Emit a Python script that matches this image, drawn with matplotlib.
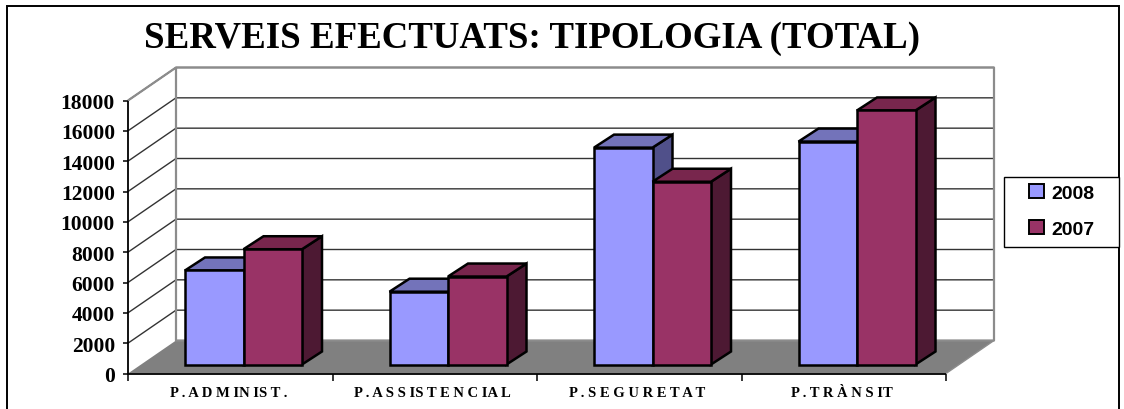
import matplotlib
matplotlib.use("Agg")
import matplotlib.pyplot as plt
from matplotlib.patches import Patch, Rectangle

W, H = 1124, 410

categories = ["P . A D M IN IS T .", "P . A S S IS T E N C IA L", "P . S E G U R E T A T", "P . T R À N S IT"]
v2008 = [6200, 4800, 14300, 14700]
v2007 = [7600, 5800, 12050, 16750]
yticks = list(range(0, 18001, 2000))
titol = "SERVEIS EFECTUATS: TIPOLOGIA (TOTAL)"

fig = plt.figure(figsize=(W / 100, H / 100), dpi=100, facecolor="white")
# l'eix coincideix amb el pla frontal del grafic 3D
x0, x1, y0, y1 = 128, 946, 374.5, 101.5
ax = fig.add_axes([x0 / W, 1 - y0 / H, (x1 - x0) / W, (y0 - y1) / H])
ax.set_xlim(0, 4)
ax.set_ylim(0, 18000)
ax.axis("off")

px = 4 / (x1 - x0)        # unitats x per pixel
py = 18000 / (y0 - y1)    # unitats y per pixel
dx, dy = 48 * px, 33 * py  # profunditat de la caixa


def poly(xs, ys, color, ec="none", lw=0, z=1):
    ax.fill(xs, ys, facecolor=color, edgecolor=ec, linewidth=lw, clip_on=False,
            zorder=z, joinstyle="miter")


def line(xs, ys, color="black", lw=1.0, z=2):
    ax.plot(xs, ys, color=color, lw=lw, clip_on=False, zorder=z, solid_capstyle="butt")


# marc exterior
fig.add_artist(Rectangle((7 / W, -0.02), 1112 / W, 1 - 7 / H + 0.02, transform=fig.transFigure,
                         fill=False, ec="black", lw=1.4))

# terra i parets
poly([0, 4, 4 + dx, dx], [0, 0, dy, dy], "#808080", z=1)
for t in yticks[1:]:
    line([0, dx, 4 + dx], [t, t + dy, t + dy], color="#333333", lw=1.0, z=2)
line([0, dx, 4 + dx, 4 + dx, dx, dx], [18000, 18000 + dy, 18000 + dy, dy, dy, 18000 + dy],
     color="#8c8c8c", lw=1.6, z=2)
line([0, 0, 4], [18000, 0, 0], lw=1.3, z=3)
line([4, 4 + dx], [0, dy], color="#8c8c8c", lw=1.0, z=2)

# marques dels eixos
for t in yticks:
    line([-5 * px, 0], [t, t], lw=1.1, z=3)
    ax.text(-13 * px, t, str(t), ha="right", va="center_baseline", family="Liberation Serif",
            weight="bold", fontsize=15.5)
for i in range(5):
    line([i, i], [0, -7 * py], lw=1.1, z=3)

# barres
bw = 58.5 * px
ox = 57 * px
oy = 9 * py
bdx, bdy = 20 * px, 13 * py
estils = [("#9999FF", "#7373BA", "#50508A"), ("#993366", "#78264D", "#4D1933")]


def barra(x, v, colors, z):
    front, top, side = colors
    yb, yt = oy, oy + v
    kw = dict(ec="black", lw=1.8, z=z)
    poly([x + bw, x + bw + bdx, x + bw + bdx, x + bw], [yb, yb + bdy, yt + bdy, yt], side, **kw)
    poly([x, x + bdx, x + bw + bdx, x + bw], [yt, yt + bdy, yt + bdy, yt], top, **kw)
    poly([x, x + bw, x + bw, x], [yb, yb, yt, yt], front, **kw)


for i, cat in enumerate(categories):
    barra(i + ox, v2008[i], estils[0], 5)
    barra(i + ox + bw, v2007[i], estils[1], 6)
    ax.text(i + 0.49, -19.5 * py, cat, ha="center", va="center", family="Liberation Serif",
            weight="bold", fontsize=10.5)

fig.text(532 / W, 1 - 39 / H, titol, ha="center", va="center", family="Liberation Serif",
         weight="bold", fontsize=26.6)

# llegenda
fig.add_artist(Rectangle((1004 / W, 1 - 248 / H), 115 / W, 70 / H, transform=fig.transFigure,
                         fc="white", ec="black", lw=1.0))
handles = [Patch(fc=estils[0][0], ec="black", lw=1.4, label="2008"),
           Patch(fc=estils[1][0], ec="black", lw=1.4, label="2007")]
fig.legend(handles=handles, loc="center", bbox_to_anchor=(1062 / W, 1 - 212 / H), frameon=False,
           prop={"family": "Liberation Sans", "weight": "bold", "size": 14},
           handlelength=0.75, handleheight=0.75, handletextpad=0.4, labelspacing=0.95,
           borderpad=0, borderaxespad=0)

fig.savefig("out.png", dpi=100)
